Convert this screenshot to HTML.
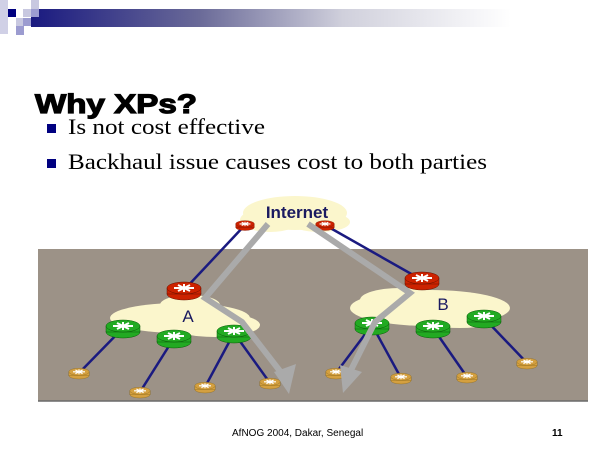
<!DOCTYPE html>
<html><head><style>
body{margin:0;background:#fff;}
svg{display:block;}
</style></head><body>
<svg width="600" height="450" xmlns="http://www.w3.org/2000/svg">
<defs>
<linearGradient id="bar" x1="0" x2="1" y1="0" y2="0">
<stop offset="0" stop-color="#1a1a80"/><stop offset="0.35" stop-color="#6a6a98"/><stop offset="0.65" stop-color="#d0d0dc"/><stop offset="1" stop-color="#ffffff"/>
</linearGradient>
<g id="r"><ellipse cx="0" cy="4" rx="17" ry="6"/><rect x="-17" y="-2" width="34" height="6"/><ellipse cx="0" cy="-2" rx="17" ry="6"/><path d="M-10,-2 H10 M0,-6 V2 M-6,-5 L6,1 M6,-5 L-6,1" stroke="#fff" stroke-width="2"/></g>
</defs>
<rect x="31" y="9" width="480" height="18" fill="url(#bar)"/>
<rect x="8" y="9" width="8" height="8" fill="#000080"/>
<rect x="0" y="0" width="8" height="34" fill="#d0d0e6"/>
<rect x="31" y="0" width="8" height="9" fill="#c8c8e0"/>
<rect x="23" y="9" width="8" height="8" fill="#c8c8e0"/>
<rect x="31" y="9" width="8" height="8" fill="#9c9cd0"/>
<rect x="16" y="18" width="8" height="8" fill="#c8c8e0"/>
<rect x="23" y="18" width="8" height="8" fill="#9c9cd0"/>
<rect x="16" y="26" width="8" height="9" fill="#9c9cd0"/>

<text x="35" y="113" font-family="Liberation Sans, sans-serif" font-weight="900" font-size="27" stroke="#000" stroke-width="1.2" textLength="162" lengthAdjust="spacingAndGlyphs">Why XPs?</text>
<rect x="47" y="124" width="9" height="9" fill="#000080"/>
<rect x="47" y="159" width="9" height="9" fill="#000080"/>
<text x="68" y="134" font-family="Liberation Serif, serif" font-size="22" textLength="197" lengthAdjust="spacingAndGlyphs">Is not cost effective</text>
<text x="68" y="169" font-family="Liberation Serif, serif" font-size="22" textLength="419" lengthAdjust="spacingAndGlyphs">Backhaul issue causes cost to both parties</text>

<rect x="38" y="249" width="550" height="152" fill="#9c9287"/>
<line x1="38" y1="401" x2="588" y2="401" stroke="#6a6a6a" stroke-width="1.5"/>

<g fill="#fbf6cc">
<ellipse cx="295" cy="213" rx="52" ry="17"/><ellipse cx="270" cy="220" rx="30" ry="12"/><ellipse cx="320" cy="222" rx="30" ry="10"/>
<ellipse cx="180" cy="318" rx="70" ry="15"/><ellipse cx="215" cy="325" rx="45" ry="12"/><ellipse cx="190" cy="305" rx="30" ry="10"/>
<ellipse cx="430" cy="308" rx="80" ry="18"/><ellipse cx="400" cy="300" rx="40" ry="12"/><ellipse cx="460" cy="318" rx="40" ry="10"/>
</g>
<text x="297" y="218" font-family="Liberation Sans, sans-serif" font-size="17" font-weight="bold" fill="#1a1a60" text-anchor="middle">Internet</text>
<text x="188" y="322" font-family="Liberation Sans, sans-serif" font-size="17" fill="#1a1a60" text-anchor="middle">A</text>
<text x="443" y="310" font-family="Liberation Sans, sans-serif" font-size="17" fill="#1a1a60" text-anchor="middle">B</text>

<g stroke="#1a1a80" stroke-width="2.5">
<line x1="245" y1="225" x2="184" y2="290"/><line x1="325" y1="225" x2="422" y2="280"/>
<line x1="123" y1="328" x2="79" y2="373"/><line x1="174" y1="338" x2="140" y2="392"/>
<line x1="234" y1="333" x2="205" y2="387"/><line x1="234" y1="333" x2="270" y2="383"/>
<line x1="372" y1="325" x2="336" y2="373"/><line x1="372" y1="325" x2="401" y2="378"/>
<line x1="433" y1="328" x2="467" y2="377"/><line x1="484" y1="318" x2="527" y2="363"/>
</g>

<g fill="#cc2200" stroke="#661100" stroke-width="0.5">
<g transform="translate(245,225) scale(0.55)"><use href="#r"/></g>
<g transform="translate(325,225) scale(0.55)"><use href="#r"/></g>
<g transform="translate(184,290)"><use href="#r"/></g>
<g transform="translate(422,280)"><use href="#r"/></g>
</g>
<g fill="#22aa22" stroke="#0a5a0a" stroke-width="0.5">
<g transform="translate(123,328)"><use href="#r"/></g>
<g transform="translate(174,338)"><use href="#r"/></g>
<g transform="translate(234,333)"><use href="#r"/></g>
<g transform="translate(372,325)"><use href="#r"/></g>
<g transform="translate(433,328)"><use href="#r"/></g>
<g transform="translate(484,318)"><use href="#r"/></g>
</g>
<g fill="#d4a040" stroke="#7a5a10" stroke-width="0.5">
<g transform="translate(79,373) scale(0.6)"><use href="#r"/></g>
<g transform="translate(140,392) scale(0.6)"><use href="#r"/></g>
<g transform="translate(205,387) scale(0.6)"><use href="#r"/></g>
<g transform="translate(270,383) scale(0.6)"><use href="#r"/></g>
<g transform="translate(336,373) scale(0.6)"><use href="#r"/></g>
<g transform="translate(401,378) scale(0.6)"><use href="#r"/></g>
<g transform="translate(467,377) scale(0.6)"><use href="#r"/></g>
<g transform="translate(527,363) scale(0.6)"><use href="#r"/></g>
</g>

<g fill="none" stroke="#aaaaaa" stroke-width="6" stroke-linejoin="miter">
<polyline points="268,224 205,298 242,322 283,375"/>
<polyline points="308,224 410,293 375,322 350,372"/>
</g>
<polygon points="274,372 296,364 289,394" fill="#aaaaaa"/>
<polygon points="340,365 362,372 343,393" fill="#aaaaaa"/>

<text x="232" y="436" font-family="Liberation Sans, sans-serif" font-size="10">AfNOG 2004, Dakar, Senegal</text>
<text x="552" y="436" font-family="Liberation Sans, sans-serif" font-size="10" font-weight="bold">11</text>
</svg>
</body></html>
